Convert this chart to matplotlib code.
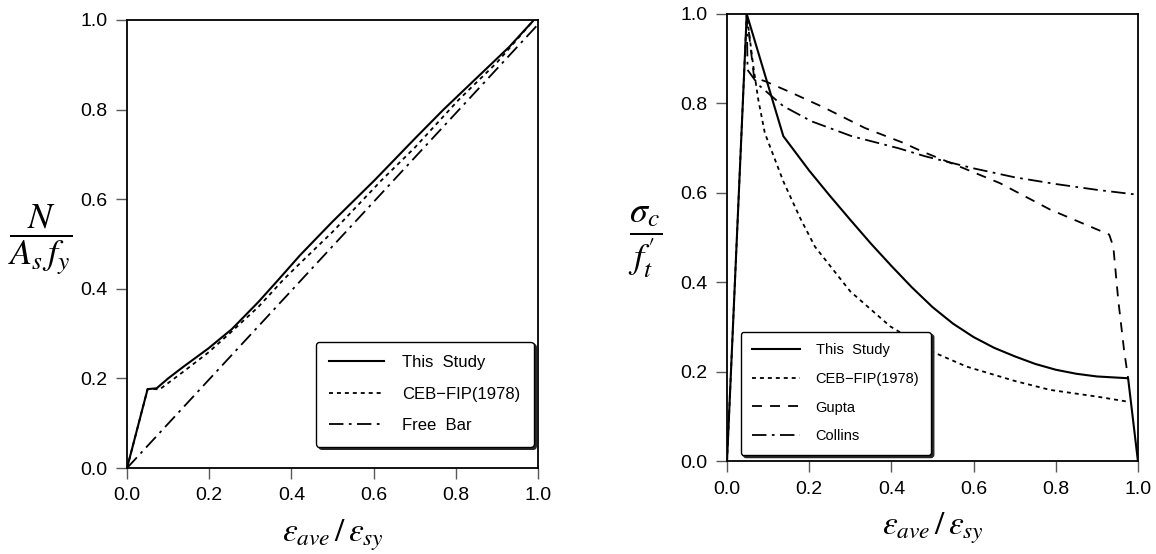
import matplotlib
matplotlib.use("Agg")
import matplotlib.pyplot as plt

plt.rcParams['font.family'] = ['Liberation Sans', 'DejaVu Sans']
plt.rcParams['mathtext.fontset'] = 'stix'

# left panel: N / (As fy) vs strain ratio
left_study_x = [0, 0.05, 0.072, 0.1, 0.137, 0.198, 0.255, 0.32, 0.368, 0.421, 0.5, 0.603, 0.7, 0.77, 0.85, 0.93, 0.99]
left_study_y = [0, 0.176, 0.178, 0.2, 0.226, 0.267, 0.31, 0.371, 0.42, 0.475, 0.55, 0.643, 0.735, 0.80, 0.87, 0.94, 1.0]
left_ceb_x = [0, 0.05, 0.08, 0.137, 0.198, 0.255, 0.32, 0.38, 0.421, 0.5, 0.62, 0.7, 0.806, 0.9, 0.99]
left_ceb_y = [0, 0.176, 0.176, 0.215, 0.258, 0.305, 0.36, 0.42, 0.457, 0.527, 0.643, 0.715, 0.821, 0.905, 1.0]
left_free_x = [0, 1.0]
left_free_y = [0, 0.99]

# right panel: sigma_c / f_t' vs strain ratio
right_study_x = [0, 0.048, 0.137, 0.2, 0.25, 0.3, 0.35, 0.4, 0.45, 0.5, 0.55, 0.6, 0.65,
                 0.7, 0.75, 0.8, 0.85, 0.9, 0.976, 1.0]
right_study_y = [0, 1.0, 0.727, 0.65, 0.594, 0.54, 0.487, 0.437, 0.389, 0.345, 0.308, 0.278, 0.254,
                 0.235, 0.218, 0.205, 0.196, 0.19, 0.186, 0.0]
right_ceb_x = [0, 0.048, 0.064, 0.076, 0.092, 0.137, 0.178, 0.214, 0.3, 0.397, 0.5, 0.583, 0.7, 0.786, 0.9, 0.973]
right_ceb_y = [0, 1.0, 0.883, 0.809, 0.734, 0.626, 0.544, 0.48, 0.38, 0.302, 0.245, 0.212, 0.18, 0.16, 0.145, 0.134]
right_gupta_x = [0.048, 0.066, 0.092, 0.157, 0.238, 0.336, 0.429, 0.474, 0.55, 0.664, 0.786, 0.93, 0.94, 0.952, 0.966, 0.976]
right_gupta_y = [1.0, 0.857, 0.85, 0.824, 0.79, 0.745, 0.712, 0.693, 0.665, 0.622, 0.563, 0.507, 0.48, 0.361, 0.25, 0.186]
right_collins_x = [0.048, 0.05, 0.076, 0.137, 0.206, 0.303, 0.417, 0.482, 0.6, 0.7, 0.8, 0.9, 1.0]
right_collins_y = [1.0, 0.875, 0.842, 0.794, 0.76, 0.727, 0.70, 0.682, 0.655, 0.635, 0.62, 0.607, 0.596]

ticks = [0.0, 0.2, 0.4, 0.6, 0.8, 1.0]
tick_labels = ['0.0', '0.2', '0.4', '0.6', '0.8', '1.0']

DOTTED = (0, (2.2, 2.2))
DASHED = (0, (5.5, 4.5))
DASHDOT = (0, (8, 3, 1.5, 3))

fig = plt.figure(figsize=(11.56, 5.54), dpi=100)
ax1 = fig.add_axes([0.1099, 0.1552, 0.3555, 0.8087])
ax2 = fig.add_axes([0.6289, 0.167, 0.3555, 0.8078])


def style_axes(ax):
    ax.set_xlim(0, 1)
    ax.set_ylim(0, 1)
    ax.set_xticks(ticks)
    ax.set_xticklabels(tick_labels)
    ax.set_yticks(ticks)
    ax.set_yticklabels(tick_labels)
    ax.tick_params(direction='out', length=8, width=1.0, color='0.35',
                   labelsize=14, pad=6, top=False, right=False)
    for s in ax.spines.values():
        s.set_linewidth(1.3)
    ax.set_xlabel(r'$\varepsilon_{ave}\,/\,\varepsilon_{sy}$', fontsize=24, va='center')
    ax.xaxis.set_label_coords(0.5, -0.15)


def make_legend(ax, size, spacing, pad):
    leg = ax.legend(loc='lower left', bbox_to_anchor=pad, fontsize=size,
                    fancybox=True, shadow={'color': '0.15', 'alpha': 1.0},
                    framealpha=1, edgecolor='black', handlelength=3.3,
                    handletextpad=1.05, labelspacing=spacing, borderpad=0.8,
                    borderaxespad=0)
    leg.get_frame().set_linewidth(1.0)
    return leg


lw = 1.5
ax1.plot(left_study_x, left_study_y, color='black', lw=lw, label='This  Study')
ax1.plot(left_ceb_x, left_ceb_y, color='black', lw=1.3, ls=DOTTED, label='CEB\u2212FIP(1978)')
ax1.plot(left_free_x, left_free_y, color='black', lw=1.3, ls=DASHDOT, label='Free  Bar')
style_axes(ax1)
ax1.set_ylabel(r'$\dfrac{N}{A_s\,f_y}$', fontsize=26, rotation=0, va='center', ha='center')
ax1.yaxis.set_label_coords(-0.21, 0.51)
make_legend(ax1, 12, 1.0, (0.46, 0.048))

ax2.plot(right_study_x, right_study_y, color='black', lw=lw, label='This  Study')
ax2.plot(right_ceb_x, right_ceb_y, color='black', lw=1.3, ls=DOTTED, label='CEB\u2212FIP(1978)')
ax2.plot(right_gupta_x, right_gupta_y, color='black', lw=1.3, ls=DASHED, label='Gupta')
ax2.plot(right_collins_x, right_collins_y, color='black', lw=1.3, ls=DASHDOT, label='Collins')
style_axes(ax2)
ax2.set_ylabel(r'$\dfrac{\sigma_c}{f_t^{\prime}}$', fontsize=26, rotation=0, va='center', ha='center')
ax2.yaxis.set_label_coords(-0.2, 0.49)
make_legend(ax2, 10.5, 1.0, (0.033, 0.015))

fig.savefig('out.png', dpi=100)
